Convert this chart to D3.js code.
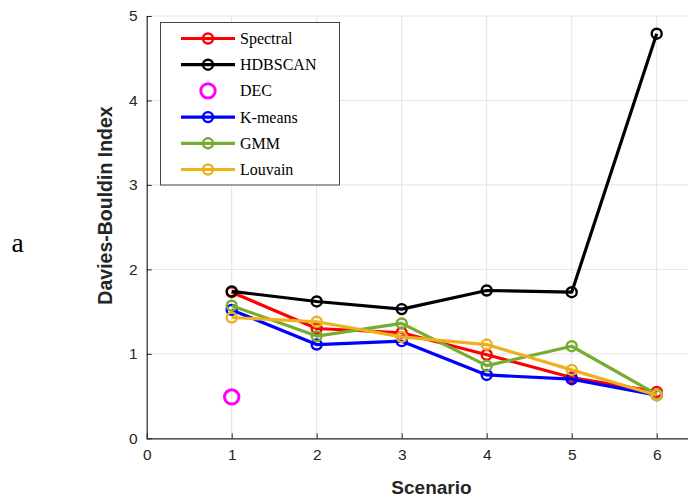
<!DOCTYPE html>
<html>
<head>
<meta charset="utf-8">
<script src="https://cdn.jsdelivr.net/npm/d3@7"></script>
<style>
  html, body { margin: 0; padding: 0; background: #fff; }
  svg { display: block; }
</style>
</head>
<body>
<svg id="chart" width="688" height="499"></svg>
<script>
// ---- data ----
const scenarios = [1, 2, 3, 4, 5, 6];
const seriesNames = ["Spectral", "HDBSCAN", "DEC", "K-means", "GMM", "Louvain"];
const spectral = [1.73, 1.30, 1.25, 0.99, 0.72, 0.55];
const hdbscan  = [1.74, 1.62, 1.53, 1.75, 1.73, 4.79];
const dec      = [0.49];
const kmeans   = [1.52, 1.11, 1.15, 0.75, 0.70, 0.51];
const gmm      = [1.57, 1.21, 1.36, 0.86, 1.09, 0.52];
const louvain  = [1.43, 1.38, 1.20, 1.11, 0.81, 0.51];
const seriesColors = ["#FF0000", "#000000", "#FF00FF", "#0000FF", "#77AC30", "#EDB120"];
const xTicks = [0, 1, 2, 3, 4, 5, 6];
const yTicks = [0, 1, 2, 3, 4, 5];

const seriesValues = [spectral, hdbscan, dec, kmeans, gmm, louvain];

const svg = d3.select("#chart");
const x = d3.scaleLinear().domain([0, 6.7]).range([146.7, 716.2]);
const y = d3.scaleLinear().domain([0, 5]).range([438.3, 16]);

const axisColor = "#262626";
const gridColor = "#e3e3e3";

// grid
const grid = svg.append("g");
grid.selectAll("line.gx").data(xTicks.slice(1)).join("line")
  .attr("x1", d => x(d)).attr("x2", d => x(d))
  .attr("y1", y(0)).attr("y2", y(5))
  .attr("stroke", gridColor).attr("stroke-width", 1);
grid.selectAll("line.gy").data(yTicks.slice(1)).join("line")
  .attr("x1", x(0)).attr("x2", 688)
  .attr("y1", d => y(d)).attr("y2", d => y(d))
  .attr("stroke", gridColor).attr("stroke-width", 1);

// axes
const xAxis = d3.axisBottom(x).tickValues(xTicks).tickSize(-5).tickPadding(11)
  .tickFormat(d3.format("d"));
const yAxis = d3.axisLeft(y).tickValues(yTicks).tickSize(-5).tickPadding(9)
  .tickFormat(d3.format("d"));

const gx = svg.append("g").attr("transform", `translate(0,${y(0)})`).call(xAxis);
const gy = svg.append("g").attr("transform", `translate(${x(0)},0)`).call(yAxis);
[gx, gy].forEach(g => {
  g.select(".domain").attr("stroke", axisColor).attr("stroke-width", 1.2);
  g.selectAll(".tick line").attr("stroke", axisColor).attr("stroke-width", 1);
  g.selectAll(".tick text").attr("fill", "#262626")
    .style("font-family", "'Liberation Sans', Arial, sans-serif").style("font-size", "15.5px");
});
gx.select(".domain").attr("d", `M${x(0)},0.5H688`);
gy.select(".domain").attr("d", `M0.5,${y(0)}V${y(5)}`);

// axis labels
svg.append("text").attr("x", 431.5).attr("y", 494)
  .attr("text-anchor", "middle").attr("fill", "#262626")
  .style("font-family", "'Liberation Sans', Arial, sans-serif")
  .style("font-weight", "bold").style("font-size", "19px")
  .text("Scenario");
svg.append("text")
  .attr("transform", "translate(112,205.5) rotate(-90)")
  .attr("text-anchor", "middle").attr("fill", "#262626")
  .style("font-family", "'Liberation Sans', Arial, sans-serif")
  .style("font-weight", "bold").style("font-size", "19.5px")
  .text("Davies-Bouldin Index");

// panel letter
svg.append("text").attr("x", 11.5).attr("y", 252)
  .attr("fill", "#000")
  .style("font-family", "'Liberation Serif', 'Times New Roman', serif")
  .style("font-size", "27.5px")
  .text("a");

// series
const line = d3.line().x(d => x(d[0])).y(d => y(d[1]));
seriesNames.forEach((name, i) => {
  const vals = seriesValues[i];
  const pts = vals.map((v, j) => [scenarios[j], v]);
  const g = svg.append("g");
  const isDec = name === "DEC";
  if (!isDec) {
    g.append("path").datum(pts).attr("d", line)
      .attr("fill", "none").attr("stroke", seriesColors[i])
      .attr("stroke-width", 3.2).attr("stroke-linejoin", "round");
  }
  g.selectAll("circle").data(pts).join("circle")
    .attr("cx", d => x(d[0])).attr("cy", d => y(d[1]))
    .attr("r", isDec ? 7.2 : 5)
    .attr("fill", "none").attr("stroke", seriesColors[i])
    .attr("stroke-width", isDec ? 3 : 2.4);
});

// legend
const legend = svg.append("g");
legend.append("rect").attr("x", 160.5).attr("y", 22.5)
  .attr("width", 179).attr("height", 162.5)
  .attr("fill", "#fff").attr("stroke", "#444").attr("stroke-width", 1);
const legY = d3.scaleLinear().domain([0, 5]).range([38.5, 169.5]);
seriesNames.forEach((name, i) => {
  const yy = legY(i);
  const isDec = name === "DEC";
  if (!isDec) {
    legend.append("line").attr("x1", 181).attr("x2", 235)
      .attr("y1", yy).attr("y2", yy)
      .attr("stroke", seriesColors[i]).attr("stroke-width", 3.2);
  }
  legend.append("circle").attr("cx", 208).attr("cy", yy)
    .attr("r", isDec ? 7.2 : 5)
    .attr("fill", "none").attr("stroke", seriesColors[i])
    .attr("stroke-width", isDec ? 3 : 2.4);
  legend.append("text").attr("x", 240).attr("y", yy + 5.5)
    .attr("fill", "#000")
    .style("font-family", "'Liberation Serif', 'Times New Roman', serif")
    .style("font-size", "16px")
    .text(name);
});
</script>
</body>
</html>
